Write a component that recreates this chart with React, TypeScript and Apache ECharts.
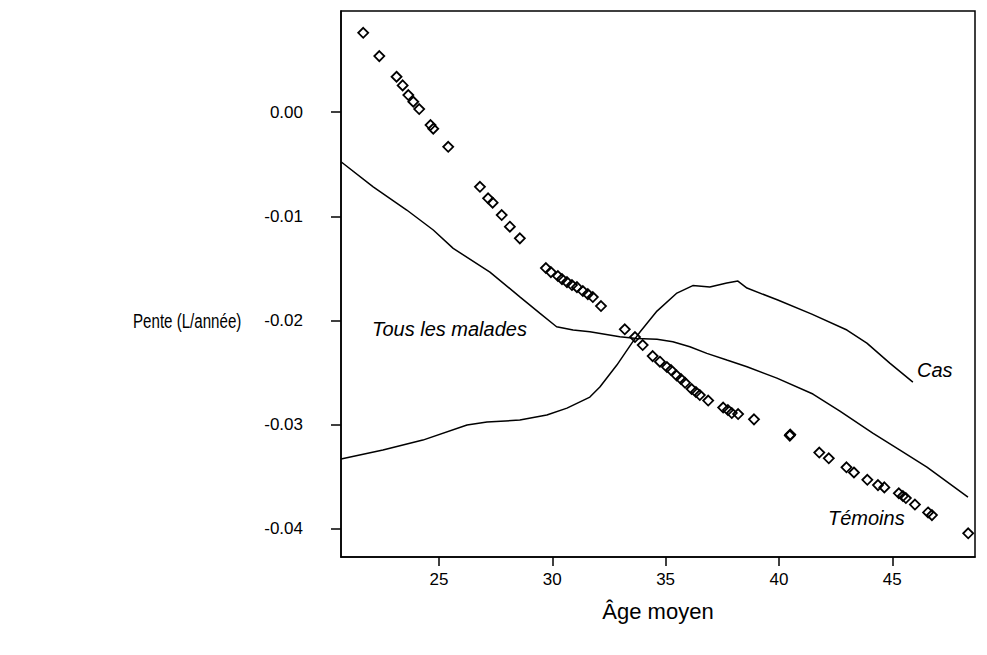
import React, { useEffect, useRef } from "react";
import * as echarts from "echarts";

// Témoins (scatter)
const temoinsAge = [21.66, 22.37, 23.13, 23.4, 23.65, 23.87, 24.13, 24.63, 24.75, 25.41, 26.81, 27.17, 27.37, 27.77, 28.13, 28.57,
  29.72, 29.94, 30.25, 30.43, 30.65, 30.87, 31.09, 31.35, 31.57, 31.79, 32.15,
  33.2, 33.65, 33.99, 34.43, 34.75, 35.06, 35.24, 35.49, 35.68, 35.86, 36.15, 36.34, 36.51, 36.88, 37.54, 37.75, 37.92, 38.2, 38.9,
  40.48, 40.5, 41.78, 42.2, 42.98, 43.31, 43.9, 44.37, 44.65, 45.29, 45.47, 45.6, 46.0, 46.58, 46.75, 48.35];
const temoinsPente = [0.00761, 0.00537, 0.00339, 0.00256, 0.00163, 0.00099, 0.00029, -0.00125, -0.0016, -0.00333, -0.00717, -0.00828, -0.0087, -0.00988, -0.011, -0.01212,
  -0.01497, -0.01536, -0.01574, -0.01603, -0.01632, -0.0166, -0.0168, -0.01718, -0.01747, -0.01775, -0.01862,
  -0.02085, -0.02159, -0.02236, -0.02342, -0.02396, -0.02447, -0.02476, -0.02529, -0.02562, -0.02598, -0.02658, -0.02687, -0.02716, -0.02769, -0.02836, -0.0286, -0.02889, -0.02898, -0.02949,
  -0.03105, -0.03095, -0.03268, -0.03323, -0.03409, -0.03459, -0.03529, -0.0358, -0.03602, -0.03659, -0.03685, -0.03704, -0.03767, -0.03842, -0.03868, -0.04043];

// Tous les malades (line)
const tousAge = [20.68, 22.1, 23.58, 24.75, 25.63, 27.25, 28.57, 29.46, 30.19, 30.92, 31.66, 32.98, 33.73, 34.62, 35.32, 36.07, 36.82, 37.7, 38.59, 39.91, 41.5, 42.69, 44.14, 45.34, 46.53, 48.34];
const tousPente = [-0.00477, -0.00717, -0.0094, -0.01132, -0.01308, -0.01536, -0.01773, -0.01932, -0.0206, -0.02092, -0.02108, -0.02157, -0.02172, -0.02181, -0.02204, -0.02252, -0.02316, -0.0238, -0.02444, -0.02553, -0.02706, -0.0287, -0.03081, -0.03244, -0.03407, -0.03695];

// Cas (line)
const casAge = [20.68, 22.53, 24.29, 26.24, 27.12, 28.57, 29.76, 30.65, 31.66, 32.1, 32.85, 33.51, 33.87, 34.62, 35.5, 36.2, 36.95, 37.7, 38.19, 38.59, 39.95, 41.45, 43.0, 43.88, 44.89, 45.91];
const casPente = [-0.0333, -0.03244, -0.03148, -0.03004, -0.02975, -0.02956, -0.02908, -0.02841, -0.02735, -0.02639, -0.02428, -0.02217, -0.02111, -0.0191, -0.01737, -0.01665, -0.01679, -0.01641, -0.01622, -0.01689, -0.01804, -0.01939, -0.02092, -0.02217, -0.02409, -0.02591];

const xTicks = [25, 30, 35, 40, 45];
const yTicks = [0, -0.01, -0.02, -0.03, -0.04];

const FONT = "'Liberation Sans', Arial, sans-serif";

const zip = (a: number[], b: number[]) => a.map((v, i) => [v, b[i]]);

export default function App() {
  const ref = useRef<HTMLDivElement>(null);
  useEffect(() => {
    if (!ref.current) return;
    const chart = echarts.init(ref.current, undefined, { renderer: "svg" });
    chart.setOption({
      animation: false,
      backgroundColor: "#fff",
      grid: { left: 341, top: 11, right: 12, bottom: 98, show: true, borderColor: "#000", borderWidth: 1.5, containLabel: false },
      xAxis: {
        type: "value",
        min: 20.68,
        max: 48.65,
        name: "Âge moyen",
        nameLocation: "middle",
        nameGap: 43,
        nameTextStyle: { fontSize: 22, color: "#000", fontFamily: FONT },
        axisLine: { show: true, onZero: false, lineStyle: { color: "#000", width: 1.5 } },
        axisTick: { show: true, length: 9, customValues: xTicks, lineStyle: { color: "#000", width: 1.5 } },
        axisLabel: { customValues: xTicks, fontSize: 17, color: "#000", margin: 14, fontFamily: FONT },
        splitLine: { show: false },
      },
      yAxis: {
        type: "value",
        min: -0.0427,
        max: 0.0097,
        axisLine: { show: true, onZero: false, lineStyle: { color: "#000", width: 1.5 } },
        axisTick: { show: true, length: 10, customValues: yTicks, lineStyle: { color: "#000", width: 1.5 } },
        axisLabel: { customValues: yTicks, fontSize: 17, color: "#000", margin: 38, fontFamily: FONT, formatter: (v: number) => v.toFixed(2) },
        splitLine: { show: false },
      },
      series: [
        {
          name: "Tous les malades",
          type: "line",
          data: zip(tousAge, tousPente),
          showSymbol: false,
          lineStyle: { color: "#000", width: 1.5 },
        },
        {
          name: "Cas",
          type: "line",
          data: zip(casAge, casPente),
          showSymbol: false,
          lineStyle: { color: "#000", width: 1.5 },
        },
        {
          name: "Témoins",
          type: "scatter",
          data: zip(temoinsAge, temoinsPente),
          symbol: "diamond",
          symbolSize: 10,
          itemStyle: { color: "rgba(0,0,0,0)", borderColor: "#000", borderWidth: 1.8, opacity: 1 },
        },
      ],
      graphic: [
        { type: "text", x: 133, y: 321, scaleX: 0.72, style: { text: "Pente (L/année)", fontSize: 21, fontFamily: FONT, fill: "#000", textVerticalAlign: "middle", textAlign: "left" } },
        { type: "text", left: 372, top: 319, style: { text: "Tous les malades", fontSize: 20, fontStyle: "italic", fontFamily: FONT, fill: "#000" } },
        { type: "text", left: 917, top: 360, style: { text: "Cas", fontSize: 20, fontStyle: "italic", fontFamily: FONT, fill: "#000" } },
        { type: "text", left: 828, top: 508, style: { text: "Témoins", fontSize: 20, fontStyle: "italic", fontFamily: FONT, fill: "#000" } },
      ],
    });
    return () => chart.dispose();
  }, []);
  return <div ref={ref} style={{ position: "fixed", left: 0, top: 0, width: 987, height: 655 }} />;
}
